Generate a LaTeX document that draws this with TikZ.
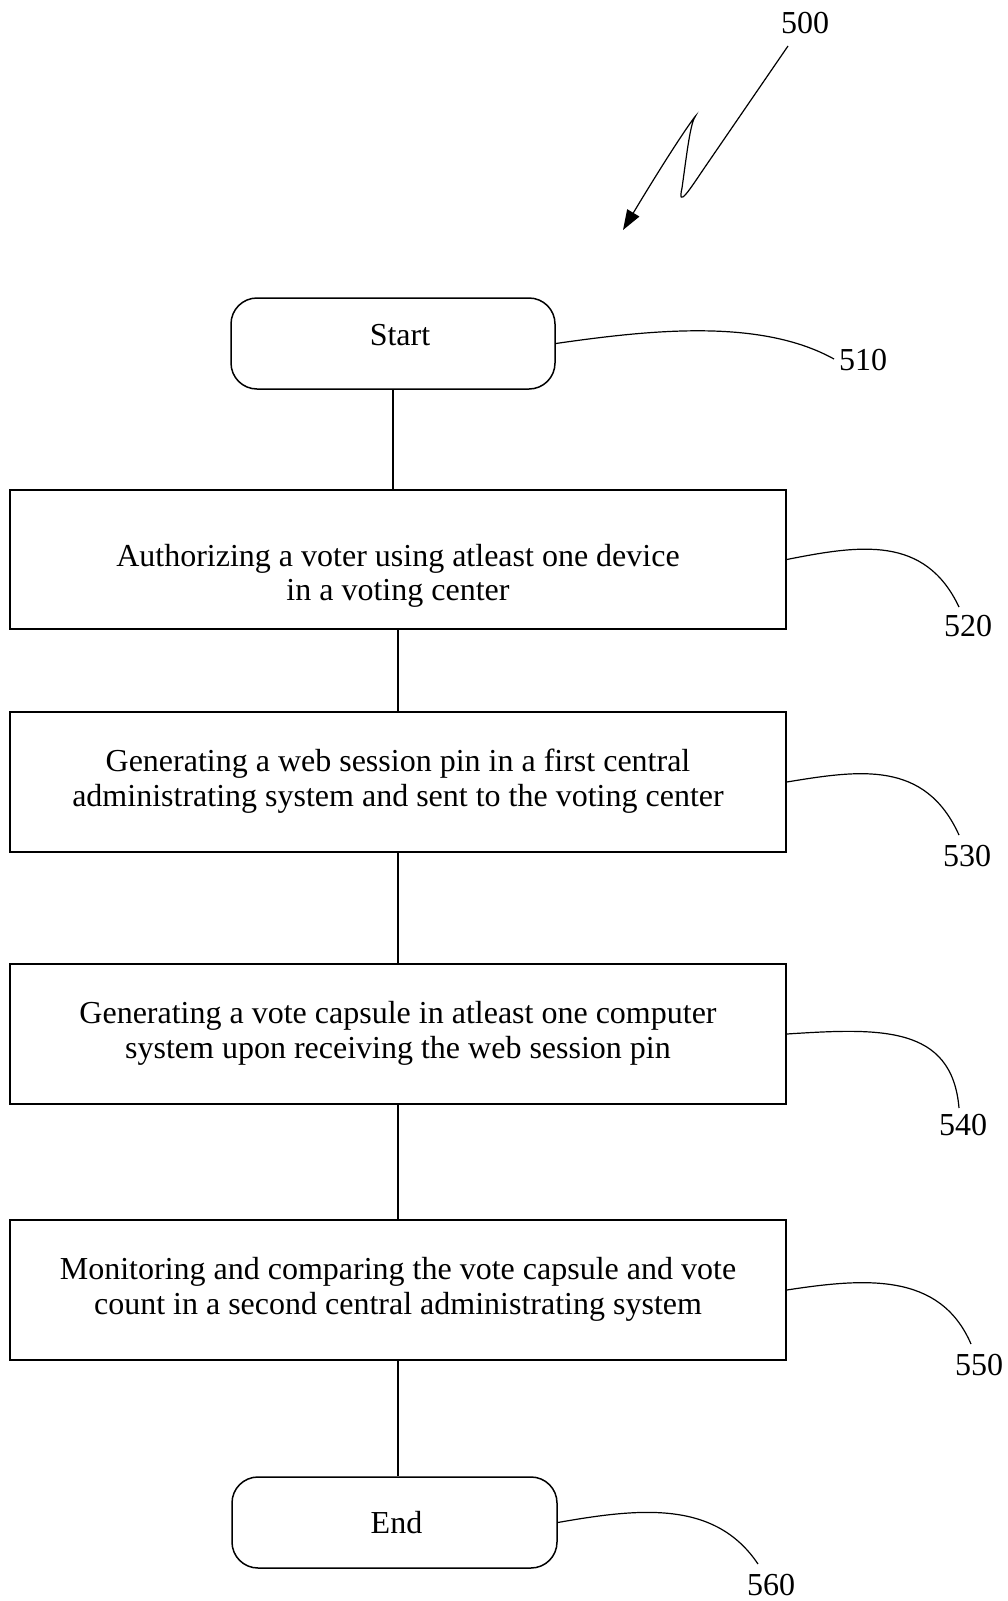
\documentclass[tikz,border=0pt]{standalone}
\usepackage{fontspec}
\setmainfont{Liberation Serif}
\usetikzlibrary{arrows.meta}
\newcommand\boxtxt[2]{\raisebox{#1}[\height][\depth]{\begin{tabular}{@{}c@{}}#2\end{tabular}}}
\begin{document}
\begin{tikzpicture}[x=1pt,y=-1pt,
  every node/.style={font=\fontsize{32}{34.5}\selectfont, inner sep=0pt},
  term/.style={draw, line width=1.5pt, rounded corners=26pt, minimum width=324pt, minimum height=91pt},
  stepbox/.style={draw, line width=1.5pt, minimum width=776pt, minimum height=140pt},
  link/.style={line width=1.5pt},
  leader/.style={line width=1.2pt}]
\useasboundingbox (0,0) rectangle (1008,1601);
\fill[white] (0,0) rectangle (1008,1601);

% nodes
\node[term] (s) at (393,343.5) {\hspace*{14pt}\raisebox{8pt}[\height][\depth]{Start}};
\node[stepbox, minimum height=139pt] (b1) at (398,559.5) {\boxtxt{-17pt}{Authorizing a voter using atleast one device\\in a voting center}};
\node[stepbox] (b2) at (398,782) {\boxtxt{0pt}{Generating a web session pin in a first central\\administrating system and sent to the voting center}};
\node[stepbox] (b3) at (398,1034) {\boxtxt{0pt}{Generating a vote capsule in atleast one computer\\system upon receiving the web session pin}};
\node[stepbox] (b4) at (398,1290) {\boxtxt{0pt}{Monitoring and comparing the vote capsule and vote\\count in a second central administrating system}};
\node[term, minimum width=325pt] (e) at (394.5,1522.5) {\hspace*{4pt}End};

% reference numerals
\node (n500) at (805,23) {500};
\node (n510) at (863,360) {510};
\node (n520) at (968,626) {520};
\node (n530) at (967,856) {530};
\node (n540) at (963,1125) {540};
\node (n550) at (979,1365) {550};
\node (n560) at (771,1585) {560};

% connectors
\draw[link] (s.south) -- (s.south |- b1.north);
\draw[link] (b1.south) -- (b2.north);
\draw[link] (b2.south) -- (b3.north);
\draw[link] (b3.south) -- (b4.north);
\draw[link] (b4.south) -- (b4.south |- e.north);

% leader lines
\coordinate (c510) at (834,359);
\coordinate (c520) at (959,607);
\coordinate (c530) at (959,835);
\coordinate (c540) at (959,1108);
\coordinate (c550) at (971,1344);
\coordinate (c560) at (758,1564);
\draw[leader] (s.east) .. controls (650,330) and (760,318) .. (c510);
\draw[leader] (b1.east) .. controls (860,545) and (925,535) .. (c520);
\draw[leader] (b2.east) .. controls (860,770) and (925,760) .. (c530);
\draw[leader] (b3.east) .. controls (880,1028) and (952,1025) .. (c540);
\draw[leader] (b4.east) .. controls (865,1278) and (940,1272) .. (c550);
\draw[leader] (e.east) .. controls (640,1508) and (715,1500) .. (c560);

% figure arrow
\coordinate (a0) at (788,46);
\coordinate (a1) at (623,230);
\draw[leader, -{Triangle[length=20pt,width=14pt]}] (a0) -- (705,167)
  .. controls (690,189) and (677,210) .. (682,188)
  .. controls (686,160) and (690,124) .. (695,117)
  .. controls (699,111) and (682,132) .. (a1);
\end{tikzpicture}
\end{document}
